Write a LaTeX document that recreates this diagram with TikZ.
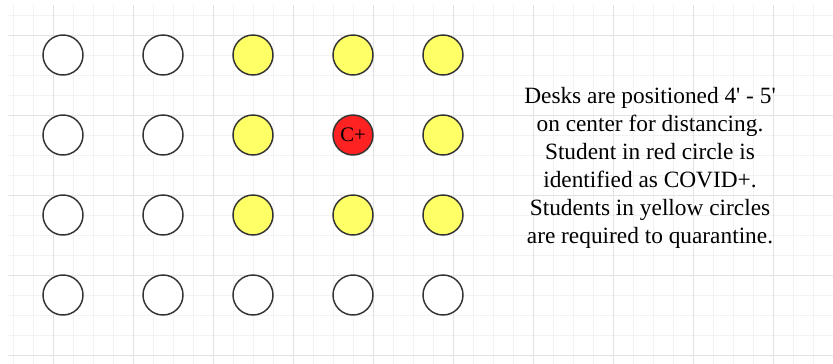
\documentclass[tikz,border=0pt]{standalone}
\usepackage{fontspec}
\setmainfont{Liberation Serif}
\definecolor{deskline}{HTML}{333333}
\definecolor{quarantine}{HTML}{FFFF66}
\definecolor{positive}{HTML}{FF2222}
\definecolor{minorgrid}{HTML}{F2F2F2}
\definecolor{majorgrid}{HTML}{E2E2E2}
\begin{document}
\begin{tikzpicture}[x=0.75pt,y=-0.75pt,every node/.style={circle,draw=deskline,line width=1.1pt,minimum size=30pt,inner sep=0pt,fill=white},yellow/.style={fill=quarantine},red/.style={fill=positive,font=\fontsize{15.5pt}{15.5pt}\selectfont}]
\useasboundingbox (0,0) rectangle (833,364);
\fill[white] (0,0) rectangle (833,364);
\foreach \x in {13,33,...,833} \draw[minorgrid,line width=0.75pt] (\x,5)--(\x,364);
\foreach \y in {15,35,...,364} \draw[minorgrid,line width=0.75pt] (8,\y)--(833,\y);
\foreach \x in {53,133,...,833} \draw[majorgrid,line width=0.75pt] (\x,5)--(\x,364);
\foreach \y in {35,115,...,364} \draw[majorgrid,line width=0.75pt] (8,\y)--(833,\y);
\node (a1) at (63,55) {};
\node (b1) at (163,55) {};
\node[yellow] (c1) at (253,55) {};
\node[yellow] (d1) at (353,55) {};
\node[yellow] (e1) at (443,55) {};
\node (a2) at (63,135) {};
\node (b2) at (163,135) {};
\node[yellow] (c2) at (253,135) {};
\node[red] (d2) at (353,135) {C+};
\node[yellow] (e2) at (443,135) {};
\node (a3) at (63,215) {};
\node (b3) at (163,215) {};
\node[yellow] (c3) at (253,215) {};
\node[yellow] (d3) at (353,215) {};
\node[yellow] (e3) at (443,215) {};
\node (a4) at (63,295) {};
\node (b4) at (163,295) {};
\node (c4) at (253,295) {};
\node (d4) at (353,295) {};
\node (e4) at (443,295) {};
\node[draw=none,fill=none,rectangle,align=center,font=\fontsize{17.5pt}{21pt}\selectfont] (note) at (650,168) {Desks are positioned 4\textquotesingle{} - 5\textquotesingle\\on center for distancing.\\Student in red circle is\\identified as COVID+.\\Students in yellow circles\\are required to quarantine.};
\end{tikzpicture}
\end{document}
